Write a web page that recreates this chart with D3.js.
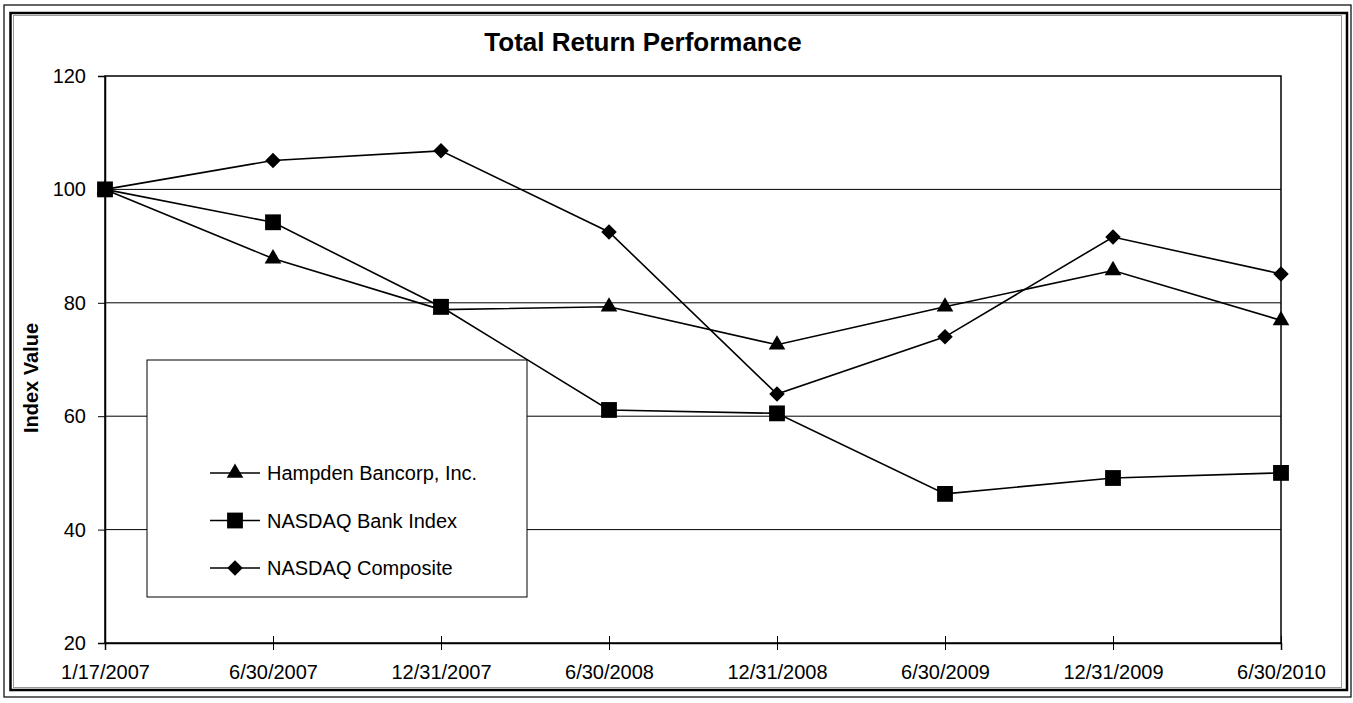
<!DOCTYPE html>
<html>
<head>
<meta charset="utf-8">
<script src="https://cdn.jsdelivr.net/npm/d3@7"></script>
<style>
  body { margin: 0; background: #fff; }
  svg text { font-family: "Liberation Sans", Arial, sans-serif; fill: #000; }
</style>
</head>
<body>
<svg id="chart"></svg>
<script>
// categories and series
const dates = ["1/17/2007", "6/30/2007", "12/31/2007", "6/30/2008", "12/31/2008", "6/30/2009", "12/31/2009", "6/30/2010"];
const hampden = [100, 87.8, 78.8, 79.3, 72.6, 79.3, 85.7, 76.9];
const bankIndex = [100, 94.2, 79.3, 61.1, 60.5, 46.3, 49.1, 50.0];
const composite = [100, 105.1, 106.8, 92.5, 63.9, 74.0, 91.6, 85.1];
const yTicks = [20, 40, 60, 80, 100, 120];

const seriesNames = ["Hampden Bancorp, Inc.", "NASDAQ Bank Index", "NASDAQ Composite"];
const seriesValues = [hampden, bankIndex, composite];

const W = 1353, H = 703;
const plot = { left: 105, right: 1281, top: 76, bottom: 643 };

const svg = d3.select("#chart").attr("width", W).attr("height", H);

// outer frame (double border like the scanned original)
svg.append("rect").attr("x", 4).attr("y", 5).attr("width", 1347).attr("height", 692)
  .attr("fill", "none").attr("stroke", "#000").attr("stroke-width", 1.2);
svg.append("rect").attr("x", 10.5).attr("y", 13).attr("width", 1336.5).attr("height", 677)
  .attr("fill", "none").attr("stroke", "#000").attr("stroke-width", 2.5);
svg.append("rect").attr("x", 13.5).attr("y", 15.5).attr("width", 1328).attr("height", 672)
  .attr("fill", "none").attr("stroke", "#999").attr("stroke-width", 1);

const x = d3.scalePoint().domain(dates).range([plot.left, plot.right]).padding(0);
const y = d3.scaleLinear().domain([20, 120]).range([plot.bottom, plot.top]);

// gridlines
svg.append("g").selectAll("line")
  .data(yTicks.filter(d => d > 20 && d < 120))
  .join("line")
  .attr("x1", plot.left).attr("x2", plot.right)
  .attr("y1", d => y(d)).attr("y2", d => y(d))
  .attr("stroke", "#000").attr("stroke-width", 1);

// plot border
svg.append("rect")
  .attr("x", plot.left).attr("y", plot.top)
  .attr("width", plot.right - plot.left).attr("height", plot.bottom - plot.top)
  .attr("fill", "none").attr("stroke", "#000").attr("stroke-width", 1.5);

// axes
const yAxis = svg.append("g")
  .attr("transform", `translate(${plot.left},0)`)
  .call(d3.axisLeft(y).tickValues(yTicks).tickSize(7).tickPadding(12));
yAxis.select(".domain").attr("stroke", "#000").attr("stroke-width", 1.5);
yAxis.selectAll(".tick text").style("font-size", "20px");

const xAxis = svg.append("g")
  .attr("transform", `translate(0,${plot.bottom})`)
  .call(d3.axisBottom(x).tickSize(7).tickPadding(15));
xAxis.select(".domain").attr("stroke", "#000").attr("stroke-width", 1.5);
xAxis.selectAll(".tick line").attr("y1", -7);
xAxis.selectAll(".tick text").style("font-size", "20px");

// title and axis label
svg.append("text")
  .attr("x", 643).attr("y", 51)
  .attr("text-anchor", "middle")
  .style("font-size", "26px").style("font-weight", "bold")
  .text("Total Return Performance");

svg.append("text")
  .attr("transform", "translate(38,378) rotate(-90)")
  .attr("text-anchor", "middle")
  .style("font-size", "20px").style("font-weight", "bold")
  .text("Index Value");

// markers: triangle, square, diamond (square turned 45 degrees)
const symbols = [d3.symbolTriangle, d3.symbolSquare, d3.symbolSquare];
const sizes = [120, 250, 120];
const rotations = [0, 0, 45];

const line = d3.line().x((d, i) => x(dates[i])).y(d => y(d));

seriesValues.forEach((vals, s) => {
  const g = svg.append("g");
  g.append("path")
    .attr("d", line(vals))
    .attr("fill", "none").attr("stroke", "#000").attr("stroke-width", 1.6);
  g.selectAll("path.pt")
    .data(vals)
    .join("path")
    .attr("class", "pt")
    .attr("transform", (d, i) => `translate(${x(dates[i])},${y(d)}) rotate(${rotations[s]})`)
    .attr("d", d3.symbol().type(symbols[s]).size(sizes[s]))
    .attr("fill", "#000");
});

// legend
const legend = svg.append("g");
legend.append("rect")
  .attr("x", 147).attr("y", 360).attr("width", 380).attr("height", 237)
  .attr("fill", "#fff").attr("stroke", "#000").attr("stroke-width", 1);

const legendY = d3.scalePoint().domain(seriesNames).range([473, 568]);
seriesNames.forEach((name, s) => {
  const ly = legendY(name);
  legend.append("line")
    .attr("x1", 210).attr("x2", 260).attr("y1", ly).attr("y2", ly)
    .attr("stroke", "#000").attr("stroke-width", 1.6);
  legend.append("path")
    .attr("transform", `translate(235,${ly}) rotate(${rotations[s]})`)
    .attr("d", d3.symbol().type(symbols[s]).size(sizes[s]))
    .attr("fill", "#000");
  legend.append("text")
    .attr("x", 267).attr("y", ly + 7)
    .style("font-size", "20px")
    .text(name);
});
</script>
</body>
</html>
